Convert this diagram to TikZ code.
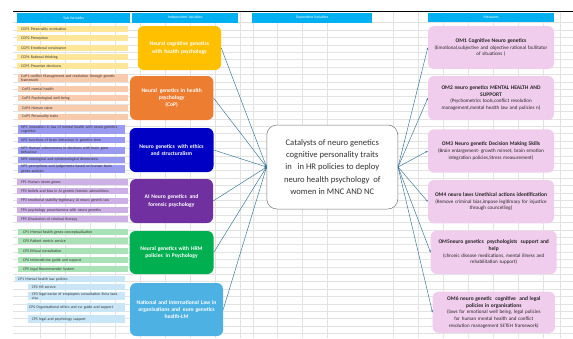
\documentclass[tikz,border=0pt]{standalone}
\usepackage{fontspec}
\setmainfont{Carlito}
\usetikzlibrary{positioning,arrows.meta}
\definecolor{hdrcyan}{HTML}{00B0F0}
\definecolor{gridgray}{HTML}{E3E3E3}
\definecolor{cgpfill}{HTML}{FFE699}
\definecolor{copfill}{HTML}{F8CBAD}
\definecolor{npfill}{HTML}{9A9AF0}
\definecolor{fpfill}{HTML}{CDB0E6}
\definecolor{cpfill}{HTML}{A9E2B6}
\definecolor{lmfill}{HTML}{C9E6F7}
\definecolor{ivyellow}{HTML}{FFC000}
\definecolor{ivorange}{HTML}{ED7D31}
\definecolor{ivblue}{HTML}{0000C4}
\definecolor{ivpurple}{HTML}{7030A0}
\definecolor{ivgreen}{HTML}{00B050}
\definecolor{ivsky}{HTML}{4DB1E4}
\definecolor{ompink}{HTML}{F0CDEC}
\definecolor{linkteal}{HTML}{31708F}
\newcommand{\subfont}{\fontsize{3.85}{4.1}\selectfont}
\newcommand{\omtitle}[1]{{\bfseries\fontsize{5.5}{6.7}\selectfont #1}}
\hyphenpenalty=10000

\begin{document}
\begin{tikzpicture}[x=1pt,y=-1pt,
  hdr/.style={fill=hdrcyan,text=white,inner sep=0pt,font=\fontsize{3.8}{4}\selectfont},
  subrow/.style={anchor=west,inner xsep=4pt,inner ysep=0.3pt,minimum height=6pt,align=left,font=\subfont,text=black!80},
  indep/.style={rounded corners=6pt,text=white,inner sep=2pt,align=center,font=\bfseries\fontsize{5.6}{7.3}\selectfont},
  meas/.style={rounded corners=6pt,fill=ompink,inner sep=2pt,align=center,text=black!85,font=\fontsize{5.05}{6.7}\selectfont},
  link/.style={draw=linkteal,line width=0.45pt},
  tip/.style={-{Stealth[length=2.2pt,width=1.8pt]}}]
\useasboundingbox (0,0) rectangle (573,338);

% spreadsheet grid
\foreach \gy in {22.5,29.9,...,338} \draw[gridgray,line width=0.3pt] (13,\gy) -- (573,\gy);
\foreach \gx in {40,65,90,115,140,165,190,215,240,252.7,277.3,302.3,327.3,392.7,417.7,443,468,493,518,543,560}
  \draw[gridgray,line width=0.3pt] (\gx,12) -- (\gx,338);
\draw[line width=0.6pt] (13,11) -- (573,11);

% column headers
\node[hdr,minimum width=113pt,minimum height=10pt,anchor=north west] (hsub) at (17,12.5) {Sub Variables};
\node[hdr,minimum width=106pt,minimum height=10.5pt,anchor=north west] (hind) at (132,12.5) {Independent Variables};
\node[hdr,minimum width=120pt,minimum height=10.5pt,anchor=north west] (hdep) at (252,12.5) {Dependent Variables};
\node[hdr,minimum width=126pt,minimum height=9.5pt,anchor=north west] (hmea) at (428,12.5) {Measures};

% sub variables
\node[subrow,fill=cgpfill,text width=103pt] (cgp1) at (17,29.3) {CGP1 Personality motivation};
\node[subrow,fill=cgpfill,text width=103pt] (cgp2) at (17,38.3) {CGP2 Preception};
\node[subrow,fill=cgpfill,text width=103pt] (cgp3) at (17,47.7) {CGP3 Emotional consistance};
\node[subrow,fill=cgpfill,text width=103pt] (cgp4) at (17,57) {CGP4 Rational thinking};
\node[subrow,fill=cgpfill,text width=103pt] (cgp5) at (17,66.3) {CGP5 Proactive decisions};

\node[subrow,fill=copfill,text width=104pt,inner xsep=3pt] (cop1) at (18,78) {CoP1 conflict Management and resolution through genetic\\ framework};
\node[subrow,fill=copfill,text width=102pt] (cop2) at (18,88.7) {CoP2 mental health};
\node[subrow,fill=copfill,text width=102pt] (cop3) at (18,98.3) {CoP3 Psychological well being};
\node[subrow,fill=copfill,text width=102pt] (cop4) at (18,107.7) {CoP4 Human value};
\node[subrow,fill=copfill,text width=102pt] (cop5) at (18,116.7) {CoP5 Personality traits};

\node[subrow,fill=npfill,text width=101pt,inner xsep=3pt] (np1) at (18,129.5) {NP1 innovation in law of mental health with neuro genetics\\ cognition};
\node[subrow,fill=npfill,text width=101pt,inner xsep=3pt] (np2) at (18,140.3) {NP2 functions of brain behaviour in genetics term};
\node[subrow,fill=npfill,text width=101pt,inner xsep=3pt] (np3) at (18,150.5) {NP3 Human cohesiveness in decisions with brain gene\\ behaviour};
\node[subrow,fill=npfill,text width=101pt,inner xsep=3pt] (np4) at (18,159.7) {NP4 ontological and epistemological dimensions};
\node[subrow,fill=npfill,text width=101pt,inner xsep=3pt] (np5) at (18,169) {NP5 perceptions and judgements based on human brain\\ genes analysis};

\node[subrow,fill=fpfill,text width=103pt] (fp1) at (17,182.3) {FP1 Human neuro genes};
\node[subrow,fill=fpfill,text width=103pt] (fp2) at (17,191.3) {FP2 beliefs and bias in AI genetic forensic admonitions};
\node[subrow,fill=fpfill,text width=103pt] (fp3) at (17,200.7) {FP3 emotional stability-legitimacy AI neuro genetic law};
\node[subrow,fill=fpfill,text width=103pt] (fp4) at (17,210) {FP4 psychology proactiveness with neuro genetics};
\node[subrow,fill=fpfill,text width=103pt] (fp5) at (17,219.3) {FP5 Dissolution of criminal therapy};

\node[subrow,fill=cpfill,text width=100pt,inner xsep=5pt] (cp1) at (18,232) {CP1 Mental health genes conceptualisation};
\node[subrow,fill=cpfill,text width=100pt,inner xsep=5pt] (cp2) at (18,241.3) {CP2 Patient centric service};
\node[subrow,fill=cpfill,text width=100pt,inner xsep=5pt] (cp3) at (18,250.7) {CP3 Ethical consultation};
\node[subrow,fill=cpfill,text width=100pt,inner xsep=5pt] (cp4) at (18,260) {CP4 telemedicine guide and support};
\node[subrow,fill=cpfill,text width=100pt,inner xsep=5pt] (cp5) at (18,269.3) {CP5 legal Recommender System};

\node[subrow,fill=lmfill,text width=104pt,inner xsep=3pt] (lm1) at (15,279) {CP1 Mental health law policies};
\node[subrow,fill=lmfill,text width=89.6pt,inner xsep=3.7pt] (lm2) at (28,287) {CP2 HR service};
\node[subrow,fill=lmfill,text width=89.6pt,inner xsep=3.7pt] (lm3) at (28,296) {CP3 legal excise of employees consultation Sima laws\\ visa};
\node[subrow,fill=lmfill,text width=94pt,inner xsep=2pt,minimum height=9pt] (lm4) at (27,307.7) {CP4 Organisational ethics and csr guide and support};
\node[subrow,fill=lmfill,text width=89.6pt,inner xsep=3.7pt,minimum height=8pt] (lm5) at (28,319) {CP5 legal and psychology support};

% independent variables
\node[indep,fill=ivyellow,minimum width=83.3pt,minimum height=44pt,text width=78pt] (iv1) at (179.4,48) {Neural cognitive genetics\\ with health psychology};
\node[indep,fill=ivorange,minimum width=83.3pt,minimum height=44pt,text width=78pt] (iv2) at (171.7,98) {Neural\, genetics in health\\ psychology\\ (CoP)};
\node[indep,fill=ivblue,minimum width=83pt,minimum height=44pt,text width=80pt] (iv3) at (171.5,150) {Neuro genetics\, with ethics\\ and structuralism};
\node[indep,fill=ivpurple,minimum width=83pt,minimum height=44pt,text width=78pt] (iv4) at (171.5,201) {AI Neuro genetics\, and\\ forensic psychology};
\node[indep,fill=ivgreen,minimum width=83pt,minimum height=43pt,text width=80pt] (iv5) at (171.5,252.5) {Neural genetics with HRM\\ policies\, in Psychology};
\node[indep,fill=ivsky,minimum width=91pt,minimum height=53pt,text width=89pt] (iv6) at (176.5,309.5) {National and international Law in\\ organisations and\, euro genetics\\ health-LM};

% dependent variable
\node[draw=black!55,line width=0.5pt,fill=white,rounded corners=10pt,minimum width=131pt,minimum height=84pt,align=center,text=black!80,font=\fontsize{8.6}{12.3}\selectfont] (dv) at (332.3,167)
  {Catalysts of neuro genetics\\ cognitive personality traits\\ in\ \ \ in HR policies to deploy\\ neuro health psychology\ \ of\\ women in MNC AND NC};

% measures
\node[meas,minimum width=126pt,minimum height=43pt,text width=122pt] (om1) at (491,47.5)
  {\omtitle{OM1 Cognitive Neuro genetics}\\ (Emotional,subjective and objective rational facilitator\\ of situations )};
\node[meas,minimum width=126pt,minimum height=44pt,text width=122pt] (om2) at (491,98)
  {\omtitle{OM2 neuro genetics MENTAL HEALTH AND}\\ \omtitle{SUPPORT}\\ (Psychometrics tools,conflict resolution\\ management,mental health law and policies n)};
\node[meas,minimum width=126pt,minimum height=43.4pt,text width=122pt] (om3) at (491,151)
  {\omtitle{OM3 Neuro genetic Decision Making Skills}\\ (Brain enlargement- growth minset, brain emotion\\ integration policies,Stress measurement)};
\node[meas,minimum width=126pt,minimum height=43.3pt,text width=122pt] (om4) at (491,201.7)
  {\omtitle{OM4 neuro laws Unethical actions identification}\\ (Remove criminal bias,impose legitimacy for injustice\\ through councelling)};
\node[meas,minimum width=126pt,minimum height=43.3pt,text width=122pt] (om5) at (493.7,252.3)
  {\omtitle{OM5neuro genetics\ \ psychologists\ \ support and}\\ \omtitle{help}\\ (chronic disease medications, mental illness and\\ rehabilitation support)};
\node[meas,minimum width=122.3pt,minimum height=41.3pt,text width=118pt] (om6) at (493.8,312.3)
  {\omtitle{OM6 neuro genetic\ \ cognitive\ \ and legal}\\ \omtitle{policies in organisations}\\ (laws for emotional well being, legal policies\\ for human mental health and conflict\\ resolution management SETEH framework)};

% connectors
\draw[link,tip] (iv1.east) -- (dv.west);
\draw[link,tip] (iv2.east) -- (dv.west);
\draw[link,tip] (iv3.east) -- (dv.west);
\draw[link,tip] (iv4.east) -- (dv.west);
\draw[link,tip] (iv5.east) -- (dv.west);
\draw[link,tip] (iv6.east) -- (dv.west);
\draw[link,tip] (dv.east) -- (om1.west);
\draw[link,tip] (dv.east) -- (om2.west);
\draw[link,tip] (dv.east) -- (om3.west);
\draw[link,tip] (dv.east) -- (om4.west);
\draw[link,tip] (dv.east) -- (om5.west);
\draw[link,tip] (dv.east) -- (om6.west);
\end{tikzpicture}
\end{document}
